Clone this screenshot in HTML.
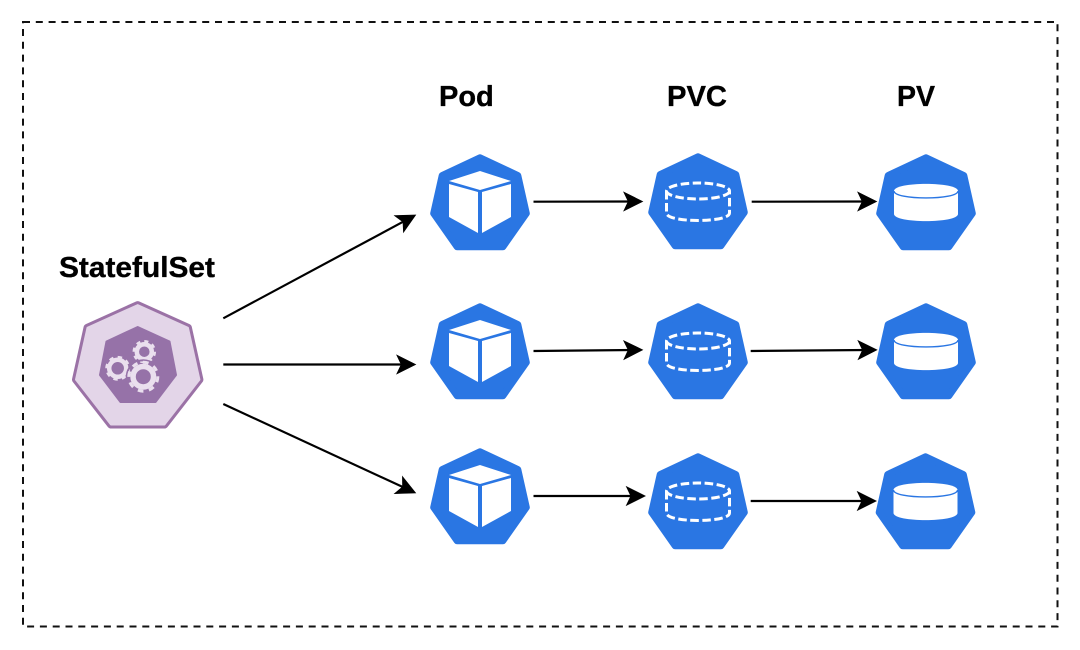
<!DOCTYPE html>
<html><head><meta charset="utf-8"><style>
html,body{margin:0;padding:0;background:#fff}
svg{display:block}
text{font-family:"Liberation Sans",Arial,sans-serif;font-weight:700;font-size:29px;fill:#000;stroke:#000;stroke-width:.35px}
</style></head><body>
<svg width="1080" height="650" viewBox="0 0 1080 650" xmlns="http://www.w3.org/2000/svg">
<defs>
<marker id="a" markerUnits="userSpaceOnUse" markerWidth="22" markerHeight="22" refX="10" refY="10.5" orient="auto"><path d="M1 1L20 10.5L1 20L5.5 10.5Z" fill="#000" stroke="#000" stroke-width=".6"/></marker>
<g id="hex"><path d="M0 3.800L37.800 21.500L46.300 59.400L22.800 92.800H-22.800L-46.300 59.400L-37.800 21.500Z" fill="#2a76e3" stroke="#2a76e3" stroke-width="7" stroke-linejoin="round"/></g>
<g id="pod"><use href="#hex"/><path d="M0 17L31 27L0 36L-31 27Z" fill="#fff"/><path d="M-31 30L-2 38V79L-31 63Z" fill="#fff"/><path d="M31 30L2 38V79L31 63Z" fill="#fff"/></g>
<g id="pv"><use href="#hex"/><path d="M-32 37V60C-32 69.500 32 69.500 32 60V37C32 27.500 -32 27.500 -32 37Z" fill="#fff"/><path d="M-32 37C-32 46.300 32 46.300 32 37" fill="none" stroke="#2a76e3" stroke-width="1.400"/></g>
<g id="pvc"><use href="#hex"/><g fill="none" stroke="#fff" stroke-width="3" stroke-dasharray="8.500 3.500"><ellipse cx="0" cy="38" rx="31.500" ry="8"/><path d="M-31.500 38V60C-31.500 70 31.500 70 31.500 60V38"/></g></g>
</defs>
<rect x="23" y="22" width="1034.500" height="604.500" fill="none" stroke="#111" stroke-width="2" stroke-dasharray="7 5.800"/>
<text x="439" y="106">Pod</text>
<text x="667" y="106" textLength="60" lengthAdjust="spacingAndGlyphs">PVC</text>
<text x="897" y="106" textLength="38" lengthAdjust="spacingAndGlyphs">PV</text>
<text x="59" y="277" textLength="156" lengthAdjust="spacingAndGlyphs">StatefulSet</text>

<path d="M137.700 305.100L187.900 327.800L199.400 379.600L164.400 424.500H111L76 379.600L87.500 327.800Z" fill="#9b72a6" stroke="#9b72a6" stroke-width="8" stroke-linejoin="round"/>
<path d="M137.700 305.100L187.900 327.800L199.400 379.600L164.400 424.500H111L76 379.600L87.500 327.800Z" fill="#e3d5e8" stroke="#e3d5e8" stroke-width="2" stroke-linejoin="round"/>
<path d="M137.700 327L169.500 341.500L176 375L155.500 402H120.500L100 375L106.500 341.500Z" fill="#9672a8" stroke="#9672a8" stroke-width="2" stroke-linejoin="round"/>
<g fill="none" stroke="#eadfee">
<circle cx="144.300" cy="351.700" r="7.500" stroke-width="4.500"/>
<circle cx="144.300" cy="351.700" r="10.500" stroke-width="2.500" pathLength="16" stroke-dasharray="1 1"/>
<circle cx="117.700" cy="368.300" r="8.500" stroke-width="4.500"/>
<circle cx="117.700" cy="368.300" r="11.200" stroke-width="2.500" pathLength="16" stroke-dasharray="1 1"/>
<circle cx="143.300" cy="376.700" r="16.500" stroke="#9672a8" stroke-width="2"/>
<circle cx="143.300" cy="376.700" r="10.250" stroke-width="5.500"/>
<circle cx="143.300" cy="376.700" r="14.500" stroke-width="3" pathLength="16" stroke-dasharray="1 1"/>
</g>

<use href="#pod" x="480" y="154"/><use href="#pod" x="480" y="303"/><use href="#pod" x="480" y="448"/>
<use href="#pvc" x="698" y="153"/><use href="#pvc" x="698" y="303"/><use href="#pvc" x="698" y="453"/>
<use href="#pv" x="926" y="154"/><use href="#pv" x="926" y="303"/><use href="#pv" x="925.500" y="453"/>

<g stroke="#000" stroke-width="2.200" fill="none">
<line x1="223.300" y1="318.300" x2="406.900" y2="219.700" marker-end="url(#a)"/>
<line x1="223.300" y1="364.500" x2="405.700" y2="364.500" marker-end="url(#a)"/>
<line x1="223.300" y1="404" x2="406.600" y2="488.800" marker-end="url(#a)"/>
<line x1="533.500" y1="201.700" x2="632.700" y2="201.500" marker-end="url(#a)"/>
<line x1="751.700" y1="201.700" x2="866.700" y2="201.500" marker-end="url(#a)"/>
<line x1="533.500" y1="351" x2="632.700" y2="350" marker-end="url(#a)"/>
<line x1="750.700" y1="351" x2="867" y2="350" marker-end="url(#a)"/>
<line x1="533.500" y1="496" x2="635.300" y2="496" marker-end="url(#a)"/>
<line x1="750.700" y1="501" x2="866.300" y2="501" marker-end="url(#a)"/>
</g>
</svg>
</body></html>
